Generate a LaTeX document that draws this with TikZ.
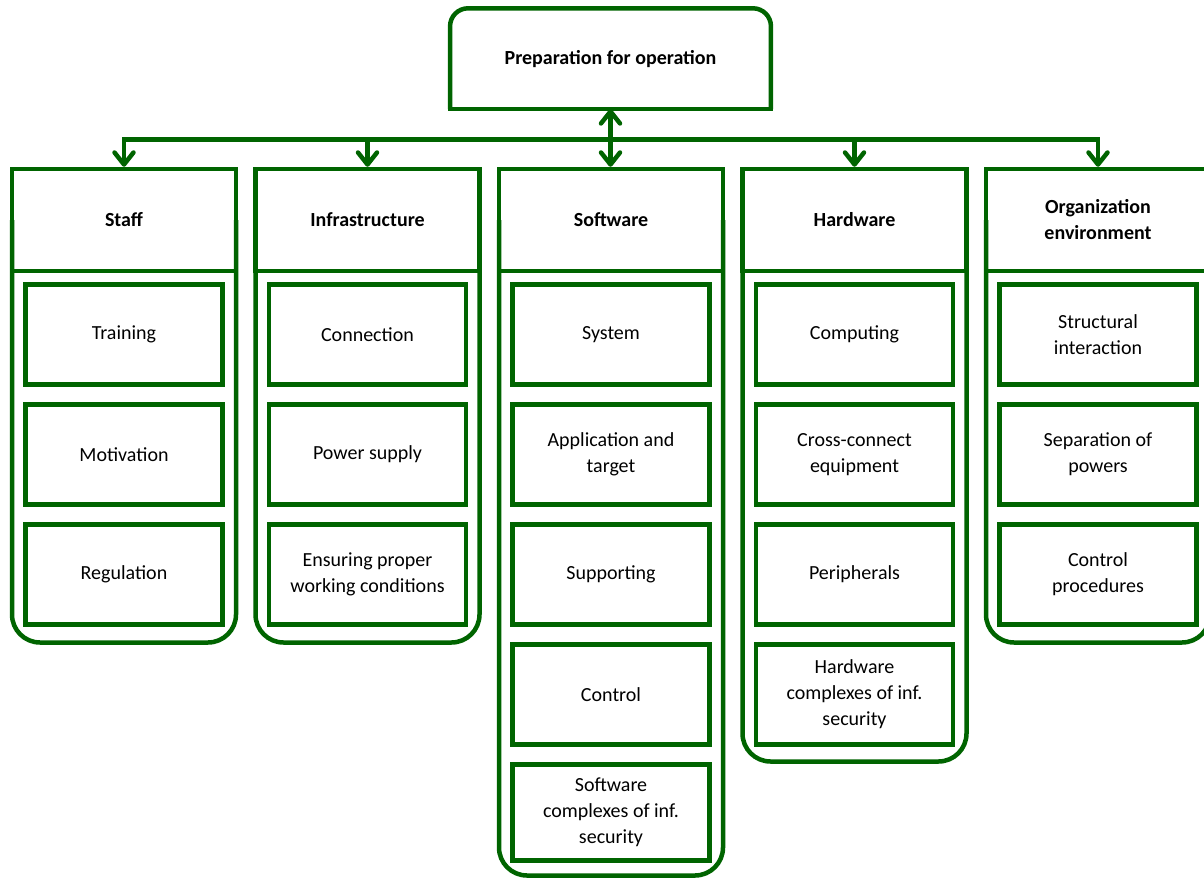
\documentclass[tikz,border=0pt]{standalone}
\usepackage{fontspec}
\setmainfont{Carlito}
\usetikzlibrary{arrows.meta}
\definecolor{leaf}{RGB}{0,100,0}
\tikzset{
  every node/.style={font=\fontsize{20}{26}\selectfont, align=center, inner sep=0pt},
  rule/.style={draw=leaf, line width=4.5pt},
  head/.style={rule, minimum width=224pt, minimum height=102pt,
    font=\fontsize{20}{26}\selectfont\bfseries},
  item/.style={rule, minimum width=197pt, minimum height=100pt},
  shorti/.style={item, minimum height=96pt},
  shell/.style={rule, rounded corners=28pt},
  tip/.style={Straight Barb[length=12pt, width=19pt, round]},
  link/.style={rule, -{Straight Barb[length=12pt, width=19pt, round]}},
  biglink/.style={rule, {Straight Barb[length=12pt, width=19pt, round]}-{Straight Barb[length=12pt, width=19pt, round]}}
}
\begin{document}
\begin{tikzpicture}[x=1pt, y=-1pt]
\useasboundingbox (0,0) rectangle (1204,880);
\clip (0,0) rectangle (1204,880);

% root box: rounded top corners, square bottom
\node (prep) at (610.5,58.75) [minimum width=320.5pt, minimum height=100.5pt,
  font=\fontsize{20}{26}\selectfont\bfseries] {Preparation for operation};
\draw[rule, rounded corners=18pt] (prep.south west) -- (prep.north west)
  -- (prep.north east) -- (prep.south east);
\draw[rule, line cap=rect] (prep.south west) -- (prep.south east);

% column headers
\node[head] (staff) at (124,220)   {Staff};
\node[head] (infra) at (367.5,220) {Infrastructure};
\node[head] (soft)  at (611,220)   {Software};
\node[head] (hard)  at (854.5,220) {Hardware};
\node[head] (org)   at (1098,220)  {Organization\\environment};

% column frames, rounded at the bottom
\draw[shell] (12,220)    -- (12,642.5)    -- (236,642.5)    -- (236,220);
\draw[shell] (255.5,220) -- (255.5,642.5) -- (479.5,642.5)  -- (479.5,220);
\draw[shell] (499,220)   -- (499,875.5)   -- (723,875.5)    -- (723,220);
\draw[shell] (742.5,220) -- (742.5,761.5) -- (966.5,761.5)  -- (966.5,220);
\draw[shell] (986,220)   -- (986,642.5)   -- (1210,642.5)   -- (1210,220);

% Staff
\node[item] (s1) at (124,334.5) {Training};
\node[item] (s2) at (124,454.5) {Motivation};
\node[item] (s3) at (124,574.5) {Regulation};

% Infrastructure
\node[item] (i1) at (367.5,334.5) {Connection};
\node[item] (i2) at (367.5,454.5) {Power supply};
\node[item] (i3) at (367.5,574.5) {Ensuring proper\\working conditions};

% Software
\node[item] (w1) at (611,334.5) {System};
\node[item] (w2) at (611,454.5) {Application and\\target};
\node[item] (w3) at (611,574.5) {Supporting};
\node[item] (w4) at (611,694.5) {Control};
\node[shorti] (w5) at (611,812.5) {Software\\complexes of inf.\\security};

% Hardware
\node[item] (h1) at (854.5,334.5) {Computing};
\node[item] (h2) at (854.5,454.5) {Cross-connect\\equipment};
\node[item] (h3) at (854.5,574.5) {Peripherals};
\node[item] (h4) at (854.5,694.5) {Hardware\\complexes of inf.\\security};

% Organization environment
\node[item] (o1) at (1098,334.5) {Structural\\interaction};
\node[item] (o2) at (1098,454.5) {Separation of\\powers};
\node[item] (o3) at (1098,574.5) {Control\\procedures};

% distribution bus
\coordinate (bus) at (611,139.5);
\draw[rule, line cap=rect] (staff.north |- bus) -- (org.north |- bus);
\foreach \c in {staff,infra,hard,org}
  \draw[link] (\c.north |- bus) -- (\c.north);
\draw[biglink] (prep.south) -- (prep.south |- soft.north);
\end{tikzpicture}
\end{document}
